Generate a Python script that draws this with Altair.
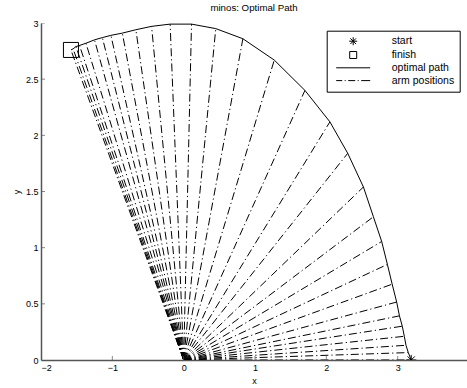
import altair as alt
import pandas as pd

# arm tip positions along the optimal path (start -> finish)
tip_x = [3.19, 3.149, 3.117, 3.093, 3.065, 3.025, 2.986, 2.923, 2.856, 2.776, 2.66, 2.52,
         2.30, 2.05, 1.70, 1.27, 0.83, 0.45, 0.11, -0.19, -0.45, -0.67, -0.86,
         -1.02, -1.14, -1.25, -1.37, -1.46, -1.51, -1.55, -1.58]
tip_y = [0.00, 0.066, 0.131, 0.211, 0.301, 0.393, 0.516, 0.675, 0.851, 1.055, 1.275, 1.54,
         1.84, 2.12, 2.40, 2.67, 2.86, 2.95, 2.99, 2.99, 2.97, 2.94, 2.91,
         2.89, 2.87, 2.85, 2.82, 2.80, 2.79, 2.77, 2.76]
base_x = 0.0
base_y = 0.0
legend_labels = ["start", "finish", "optimal path", "arm positions"]
x_ticks = [-2, -1, 0, 1, 2, 3]
y_ticks = [0, 0.5, 1, 1.5, 2, 2.5, 3]

STAR = "M0,-0.8L0,0.8M-0.8,0L0.8,0M-0.57,-0.57L0.57,0.57M-0.57,0.57L0.57,-0.57"
SQUARE = "M-0.7,-0.7L0.7,-0.7L0.7,0.7L-0.7,0.7Z"
LINE = "M-3.4,0L3.4,0"
DASHDOT = "M-3.4,0L-2.2,0M-1.7,0L-1.5,0M-1.0,0L0.4,0M0.9,0L1.1,0M1.6,0L3.4,0"

FONT = "Liberation Sans"
AXC = "#555555"

arms = pd.DataFrame({
    "i": list(range(len(tip_x))),
    "x0": [base_x] * len(tip_x),
    "y0": [base_y] * len(tip_x),
    "x1": tip_x,
    "y1": tip_y,
})
pts = pd.DataFrame({
    "x": [tip_x[0], tip_x[-1]],
    "y": [tip_y[0], tip_y[-1]],
    "label": ["start", "finish"],
    "sz": [160, 460],
})
xt = pd.DataFrame({"x": x_ticks[1:], "y": [0] * (len(x_ticks) - 1)})
yt = pd.DataFrame({"x": [-2] * (len(y_ticks) - 1), "y": y_ticks[1:]})

xscale = alt.Scale(domain=[-2, 3.972], nice=False, zero=False)
yscale = alt.Scale(domain=[0, 3], nice=False, zero=False)
xaxis = alt.Axis(values=x_ticks, format="~g", title="x")
yaxis = alt.Axis(values=y_ticks, format="~g", title="y")


def X(f):
    return alt.X(f, type="quantitative", scale=xscale, axis=xaxis)


def Y(f):
    return alt.Y(f, type="quantitative", scale=yscale, axis=yaxis)


arm_layer = alt.Chart(arms).mark_rule(
    color="black", strokeWidth=1, strokeDash=[8, 3, 1.2, 3], clip=True
).encode(x=X("x0"), y=Y("y0"), x2="x1", y2="y1")

path_layer = alt.Chart(arms).mark_line(
    color="black", strokeWidth=1, clip=True
).encode(x=X("x1"), y=Y("y1"), order="i:Q")

pt_layer = alt.Chart(pts).mark_point(
    filled=False, color="black", strokeWidth=1, opacity=1, clip=True
).encode(
    x=X("x"), y=Y("y"),
    shape=alt.Shape(
        "label:N",
        scale=alt.Scale(domain=legend_labels, range=[STAR, SQUARE, LINE, DASHDOT]),
        legend=alt.Legend(
            title=None, orient="none", legendX=285.7, legendY=7.7,
            strokeColor="black", fillColor="white", padding=5,
            symbolSize=100, symbolStrokeColor="black", symbolStrokeWidth=1,
            symbolFillColor="transparent", symbolOffset=16,
            labelFont=FONT, labelFontSize=10.5,
            labelColor="black", rowPadding=1.8, labelOffset=33,
        ),
    ),
    size=alt.Size("sz:Q", scale=None, legend=None),
)

xtick_layer = alt.Chart(xt).mark_tick(
    orient="vertical", size=8, thickness=1, color=AXC, clip=True
).encode(x=X("x"), y=Y("y"))
ytick_layer = alt.Chart(yt).mark_tick(
    orient="horizontal", size=8, thickness=1, color=AXC, clip=True
).encode(x=X("x"), y=Y("y"))

chart = alt.layer(arm_layer, path_layer, xtick_layer, ytick_layer, pt_layer).properties(
    width=426, height=337,
    title=alt.TitleParams("minos: Optimal Path", fontSize=9.7, font=FONT,
                          fontWeight="normal", offset=6, anchor="middle", color="black"),
    autosize=alt.AutoSizeParams(type="none"),
    padding={"left": 41, "top": 23, "right": 0, "bottom": 28},
).configure_view(stroke=None).configure_axis(
    grid=False, tickSize=0, labelPadding=3, domainColor=AXC, domainWidth=1.5,
    labelFont=FONT, labelFontSize=9, labelColor="black",
    titleFont=FONT, titleFontSize=9, titleFontWeight="normal", titleColor="black",
    titlePadding=4,
)

chart.save("out.html", embed_options={"renderer": "svg", "actions": False})
